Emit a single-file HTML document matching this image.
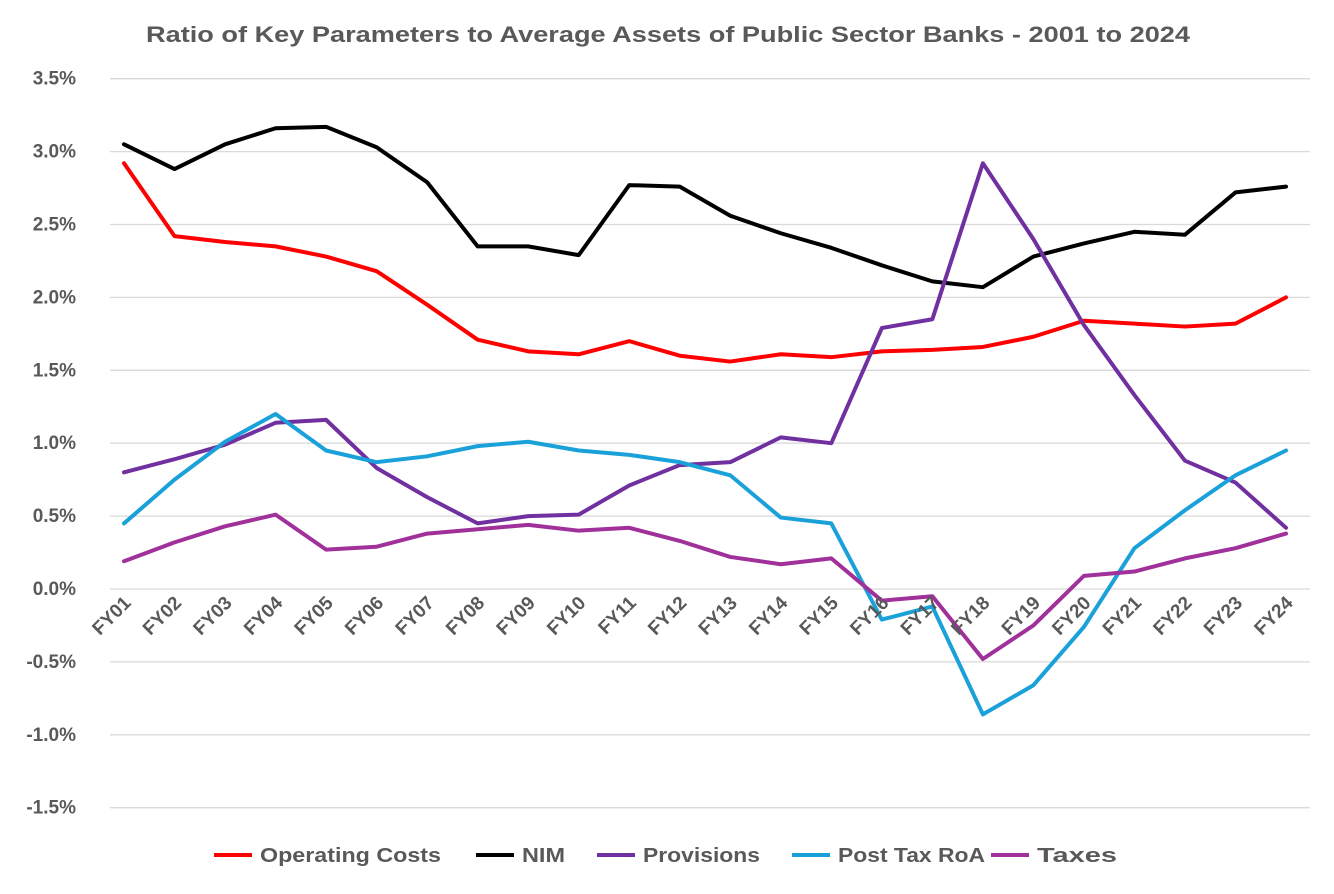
<!DOCTYPE html>
<html><head><meta charset="utf-8"><style>
body{margin:0;background:#fff;}
svg text{font-family:"Liberation Sans",sans-serif;font-weight:bold;fill:#595959;}
</style></head><body>
<svg id="chart" width="1334" height="889">
<text x="146" y="42" font-size="22" textLength="1044" lengthAdjust="spacingAndGlyphs">Ratio of Key Parameters to Average Assets of Public Sector Banks  - 2001 to 2024</text>
<g id="grid"></g><g id="ylabels"></g><g id="lines"></g><g id="xlabels"></g><g id="legend"></g>
</svg>
<script>
const categories=["FY01","FY02","FY03","FY04","FY05","FY06","FY07","FY08","FY09","FY10","FY11","FY12","FY13","FY14","FY15","FY16","FY17","FY18","FY19","FY20","FY21","FY22","FY23","FY24"];
const opCosts=[2.92,2.42,2.38,2.35,2.28,2.18,1.95,1.71,1.63,1.61,1.70,1.60,1.56,1.61,1.59,1.63,1.64,1.66,1.73,1.84,1.82,1.80,1.82,2.00];
const nim=[3.05,2.88,3.05,3.16,3.17,3.03,2.79,2.35,2.35,2.29,2.77,2.76,2.56,2.44,2.34,2.22,2.11,2.07,2.28,2.37,2.45,2.43,2.72,2.76];
const provisions=[0.80,0.89,0.99,1.14,1.16,0.83,0.63,0.45,0.50,0.51,0.71,0.85,0.87,1.04,1.00,1.79,1.85,2.92,2.40,1.81,1.33,0.88,0.73,0.42];
const roa=[0.45,0.75,1.01,1.20,0.95,0.87,0.91,0.98,1.01,0.95,0.92,0.87,0.78,0.49,0.45,-0.21,-0.12,-0.86,-0.66,-0.26,0.28,0.54,0.78,0.95];
const taxes=[0.19,0.32,0.43,0.51,0.27,0.29,0.38,0.41,0.44,0.40,0.42,0.33,0.22,0.17,0.21,-0.08,-0.05,-0.48,-0.25,0.09,0.12,0.21,0.28,0.38];
const yTicks=[3.5,3.0,2.5,2.0,1.5,1.0,0.5,0.0,-0.5,-1.0,-1.5];
const seriesNames=["Operating Costs","NIM","Provisions","Post Tax RoA","Taxes"];
const seriesData=[opCosts,nim,provisions,roa,taxes];
const colors=["#ff0000","#000000","#7030a0","#1ba1d9","#a0309a"];
const NS="http://www.w3.org/2000/svg";
const y=v=>589-v*145.8;
const x=i=>124+i*(1162/23);
function mk(t,a,p){const e=document.createElementNS(NS,t);for(const k in a)e.setAttribute(k,a[k]);p.appendChild(e);return e;}
const grid=document.getElementById('grid'),yl=document.getElementById('ylabels');
yTicks.forEach(v=>{
 const l=mk('line',{x1:110,x2:1310,y1:y(v),y2:y(v),stroke:'#d9d9d9','stroke-width':1.3},grid);
 
 
 const t=mk('text',{x:76,y:y(v)+6,'text-anchor':'end','font-size':19},yl);
 t.textContent=v.toFixed(1)+'%';
 
 
});
const lines=document.getElementById('lines');
seriesData.forEach((d,s)=>{
 const p=mk('polyline',{points:d.map((v,i)=>x(i)+','+y(v)).join(' '),fill:'none',stroke:colors[s],'stroke-width':4,'stroke-linejoin':'round','stroke-linecap':'round'},lines);
 
 
});
const xl=document.getElementById('xlabels');
categories.forEach((c,i)=>{
 const t=mk('text',{x:x(i)+8,y:604,'text-anchor':'end','font-size':19,transform:`rotate(-45 ${x(i)+8} 604)`},xl);
 t.textContent=c;
 
 
});
const lg=document.getElementById('legend');
const lx=[214,476,597,792,991];
const lw=[181,43,117,147,80];
seriesNames.forEach((n,s)=>{
 const g=mk('g',{},lg);
 
 
 mk('line',{x1:lx[s],x2:lx[s]+38,y1:855,y2:855,stroke:colors[s],'stroke-width':4},g);
 const t=mk('text',{x:lx[s]+46,y:862,'font-size':20,textLength:lw[s],lengthAdjust:'spacingAndGlyphs'},g);
 t.textContent=n;
});
</script>
</body></html>
